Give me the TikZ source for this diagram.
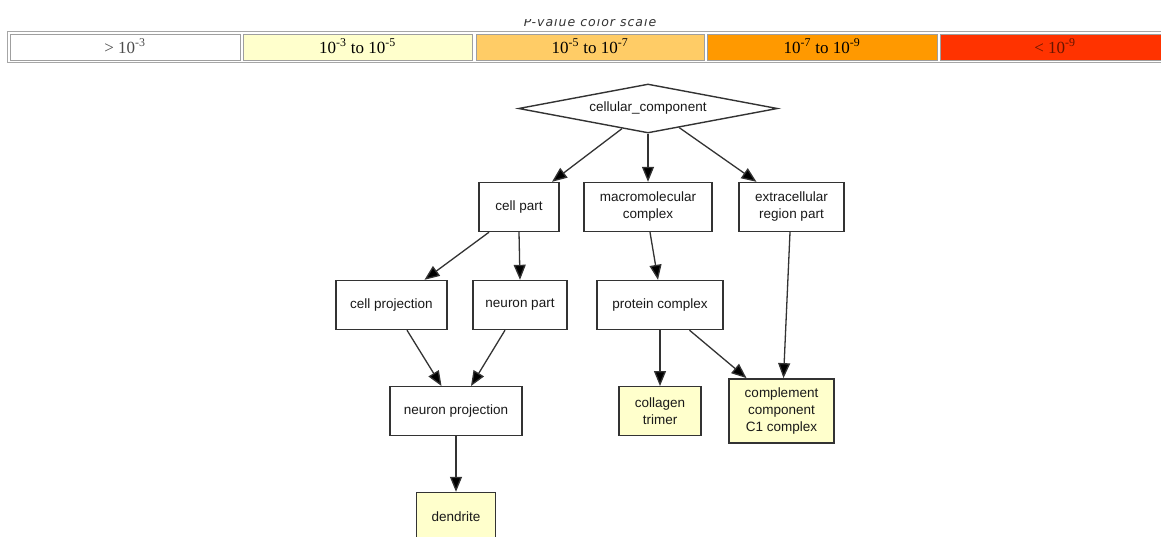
\documentclass[tikz,border=0pt]{standalone}
\usepackage{fontspec}
\setmainfont{Liberation Sans}
\newfontfamily\legfont{Liberation Serif}
\newfontfamily\titfont[LetterSpace=8]{DejaVu Sans}
\usetikzlibrary{shapes.geometric,arrows.meta,calc}
\definecolor{lyel}{HTML}{FFFFCC}
\definecolor{lorange}{HTML}{FFCC66}
\definecolor{orng}{HTML}{FF9900}
\definecolor{rd}{HTML}{FF3300}
\definecolor{edgec}{HTML}{333333}
\definecolor{redtext}{HTML}{661500}
\begin{document}
\begin{tikzpicture}[x=1pt,y=-1pt,
  box/.style={draw=edgec, line width=1.4pt, fill=white, minimum height=49pt, inner sep=0pt, align=center, font=\fontsize{13.5}{17}\selectfont, text=black!90},
  hit/.style={box, fill=lyel},
  edge/.style={draw=edgec, line width=1.3pt, -{Triangle[length=15pt,width=12pt,fill=black]}},
  cell/.style={draw=gray!75, line width=0.8pt, minimum height=26pt, inner sep=0pt, text height=13pt, text depth=1pt, font=\legfont\fontsize{17}{19}\selectfont}
]
\clip (0,0) rectangle (1161,536);
\fill[white] (0,0) rectangle (1161,536);
% legend title (cut off at the top)
\begin{scope}
\clip (0,19) rectangle (1161,30);
\node[anchor=base, font=\titfont\itshape\fontsize{12.5}{14}\selectfont, text=black!80] (title) at (590,26.5) {P-value color scale};
\end{scope}
% legend table
\draw[gray!70, line width=0.8pt] (7.5,31.5) rectangle (1170,62.5);
\node[cell, fill=white, minimum width=230pt, text=black!70] (c1) at (125,47) {> 10\textsuperscript{-3}};
\node[cell, fill=lyel, minimum width=229pt] (c2) at (357.5,47) {10\textsuperscript{-3} to 10\textsuperscript{-5}};
\node[cell, fill=lorange, minimum width=228pt] (c3) at (590,47) {10\textsuperscript{-5} to 10\textsuperscript{-7}};
\node[cell, fill=orng, minimum width=230pt] (c4) at (822,47) {10\textsuperscript{-7} to 10\textsuperscript{-9}};
\node[cell, fill=rd, minimum width=230pt, text=redtext] (c5) at (1055,47) {< 10\textsuperscript{-9}};
% graph nodes
\node[diamond, draw=edgec, line width=1.4pt, fill=white, minimum width=259pt, minimum height=49pt, aspect=5.3, inner sep=0pt, font=\fontsize{13.5}{17}\selectfont, text=black!90] (cc) at (648,108.5) {cellular\_component};
\node[box, minimum width=80pt] (cellpart) at (519,207) {cell part};
\node[box, minimum width=128pt] (macro) at (648,207) {macromolecular\\complex};
\node[box, minimum width=105pt] (extra) at (791.5,207) {extracellular\\region part};
\node[box, minimum width=111pt] (cellproj) at (391.5,305) {cell projection};
\node[box, minimum width=94pt] (neuronpart) at (520,305) {neuron part};
\node[box, minimum width=126pt] (protein) at (660,305) {protein complex};
\node[box, minimum width=132pt] (neuronproj) at (456,411.2) {neuron projection};
\node[hit, minimum width=82pt] (collagen) at (660,411.2) {collagen\\trimer};
\node[hit, minimum width=105pt, minimum height=64pt] (compl) at (781.5,410.8) {complement\\component\\C1 complex};
\node[hit, minimum width=79pt] (dendrite) at (456,517) {dendrite};
% edges
\draw[edge] ($(cc.south)!0.2!(cc.west)$) -- ([xshift=33pt]cellpart.north);
\draw[edge] (cc.south) -- (macro.north);
\draw[edge] ($(cc.south)!0.24!(cc.east)$) -- ([xshift=-35pt]extra.north);
\draw[edge] ([xshift=-30pt]cellpart.south) -- ([xshift=33pt]cellproj.north);
\draw[edge] (cellpart.south) -- (neuronpart.north);
\draw[edge] ([xshift=2pt]macro.south) -- ([xshift=-2pt]protein.north);
\draw[edge] ([xshift=-1.5pt]extra.south) -- ([xshift=2pt]compl.north);
\draw[edge] ([xshift=15.5pt]cellproj.south) -- ([xshift=-14.5pt]neuronproj.north);
\draw[edge] ([xshift=-15pt]neuronpart.south) -- ([xshift=15pt]neuronproj.north);
\draw[edge] (protein.south) -- (collagen.north);
\draw[edge] ([xshift=29.5pt]protein.south) -- ([xshift=-35pt]compl.north);
\draw[edge] (neuronproj.south) -- (dendrite.north);
\end{tikzpicture}
\end{document}
